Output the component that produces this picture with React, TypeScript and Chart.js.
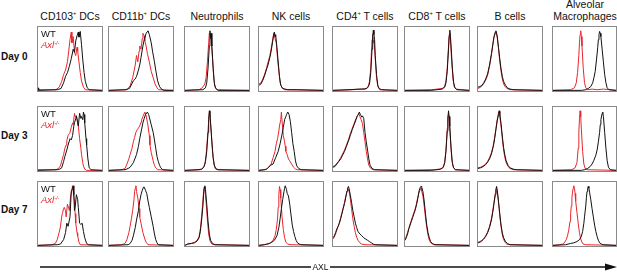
import React, { useEffect, useRef } from "react";
import { Chart, registerables } from "chart.js";

Chart.register(...registerables);

type Pt = [number, number];

// ---------- categories ----------
const cellTypes: string[] = [
  "CD103+ DCs",
  "CD11b+ DCs",
  "Neutrophils",
  "NK cells",
  "CD4+ T cells",
  "CD8+ T cells",
  "B cells",
  "Alveolar\nMacrophages",
];
const days: string[] = ["Day 0", "Day 3", "Day 7"];
const seriesNames: string[] = ["WT", "Axl", "-/-"];
const axisLabel = "AXL";

// ---------- Day 0 (x: AXL channel 0-100, y: % of mode) ----------
const d0CD103WT: Pt[] = [[0,4],[1,0],[30,1],[36,3],[40,12],[43,22],[46,28],[49,38],[52,50],[55,65],[57,60],[59,78],[61,86],[63,92],[64,84],[66,93],[68,72],[70,48],[72,28],[74,14],[77,4],[80,1],[100,0]];
const d0CD103AXL: Pt[] = [[0,1],[28,1],[33,5],[37,14],[40,25],[43,32],[46,45],[48,62],[50,80],[52,92],[53,75],[55,85],[57,60],[59,55],[61,68],[62,62],[64,45],[66,28],[68,15],[71,5],[74,1],[100,0]];
const d0CD11bWT: Pt[] = [[0,0],[26,1],[32,3],[38,15],[41,18],[43,22],[46,32],[48,40],[50,52],[53,70],[55,80],[58,90],[61,94],[63,88],[66,75],[68,62],[71,45],[73,32],[76,15],[79,6],[82,2],[86,0],[100,0]];
const d0CD11bAXL: Pt[] = [[0,0],[28,1],[33,7],[37,20],[41,40],[43,55],[45,45],[47,62],[48,70],[50,65],[52,82],[53,90],[55,86],[56,78],[58,70],[60,58],[63,45],[66,30],[69,20],[72,10],[75,4],[78,1],[100,0]];
const d0NeuWT: Pt[] = [[0,0],[28,1],[32,4],[34,12],[36,35],[38,70],[39,94],[40,82],[41,90],[42,70],[44,35],[46,10],[48,3],[52,0],[100,0]];
const d0NeuAXL: Pt[] = [[0,0],[22,1],[27,4],[31,10],[33,20],[35,45],[37,75],[38,90],[40,86],[41,78],[43,50],[45,18],[47,5],[50,1],[100,0]];
const d0NKWT: Pt[] = [[0,8],[3,10],[6,16],[9,24],[12,34],[14,40],[17,52],[19,62],[21,75],[23,88],[24,92],[25,85],[26,88],[28,68],[30,45],[32,22],[34,8],[37,3],[45,1],[60,1],[100,0]];
const d0NKAXL: Pt[] = [[0,10],[3,12],[6,18],[9,26],[12,36],[14,44],[17,55],[19,66],[21,78],[23,90],[24,88],[25,82],[27,75],[29,50],[31,30],[33,12],[36,4],[40,1],[100,0]];
const d0CD4WT: Pt[] = [[0,0],[25,1],[40,2],[50,2],[54,4],[57,10],[59,28],[61,65],[62,85],[63,95],[64,88],[65,80],[66,55],[68,25],[70,8],[72,3],[76,1],[100,0]];
const d0CD4AXL: Pt[] = [[0,0],[30,1],[45,2],[52,3],[55,6],[57,14],[59,35],[60,60],[61,80],[62,88],[63,75],[64,80],[66,50],[68,20],[70,6],[73,1],[100,0]];
const d0CD8WT: Pt[] = [[0,0],[40,0],[50,1],[58,2],[62,5],[64,12],[66,30],[68,65],[69,85],[70,95],[71,85],[72,70],[74,35],[76,12],[78,4],[81,1],[100,0]];
const d0CD8AXL: Pt[] = [[0,0],[42,1],[50,2],[58,3],[62,6],[64,15],[66,35],[68,70],[69,88],[70,90],[71,78],[73,45],[75,18],[77,6],[80,2],[100,0]];
const d0BWT: Pt[] = [[0,5],[3,6],[6,8],[9,12],[12,18],[15,26],[18,40],[21,58],[23,72],[25,85],[27,92],[28,94],[30,86],[32,68],[34,50],[36,34],[38,22],[40,14],[43,8],[46,4],[50,2],[56,1],[100,0]];
const d0BAXL: Pt[] = [[0,3],[4,5],[8,9],[12,16],[15,24],[18,38],[21,56],[23,70],[25,84],[27,90],[28,92],[30,84],[32,66],[34,46],[36,30],[38,18],[40,10],[43,5],[47,2],[52,1],[100,0]];
const d0AMWT: Pt[] = [[0,0],[45,0],[52,1],[56,3],[60,6],[63,12],[65,20],[67,30],[69,48],[71,68],[72,80],[73,88],[74,93],[75,90],[76,85],[78,65],[80,45],[82,25],[84,12],[86,4],[89,1],[100,0]];
const d0AMAXL: Pt[] = [[0,0],[28,1],[34,4],[37,12],[39,28],[41,55],[42,75],[43,88],[44,94],[45,85],[46,70],[48,35],[50,12],[52,4],[55,1],[62,2],[70,1],[80,2],[90,1],[100,0]];

// ---------- Day 3 ----------
const d3CD103WT: Pt[] = [[0,0],[30,1],[34,2],[37,4],[40,14],[42,22],[45,32],[47,40],[50,50],[52,48],[54,55],[56,70],[57,75],[59,82],[60,86],[62,75],[63,70],[65,90],[67,82],[68,85],[70,80],[71,92],[72,88],[73,75],[75,50],[76,40],[78,18],[80,4],[83,1],[100,0]];
const d3CD103AXL: Pt[] = [[0,1],[28,1],[32,3],[35,7],[38,18],[40,25],[42,35],[44,40],[45,47],[47,55],[49,58],[50,60],[52,68],[54,75],[55,72],[57,90],[58,85],[60,86],[62,75],[63,70],[65,50],[67,35],[68,25],[70,12],[71,7],[73,2],[76,0],[100,0]];
const d3CD11bWT: Pt[] = [[0,0],[25,1],[30,3],[33,5],[38,12],[43,25],[46,38],[48,50],[51,65],[53,75],[55,82],[57,88],[60,92],[62,88],[63,84],[66,72],[69,60],[71,48],[73,35],[75,22],[77,14],[79,8],[81,4],[84,1],[100,0]];
const d3CD11bAXL: Pt[] = [[0,0],[20,1],[25,3],[28,10],[31,18],[33,25],[36,35],[38,45],[40,52],[42,60],[44,64],[46,67],[48,70],[50,76],[51,80],[53,85],[55,90],[56,92],[58,86],[60,76],[61,70],[63,55],[64,40],[66,28],[69,15],[71,8],[73,4],[76,1],[100,0]];
const d3NeuWT: Pt[] = [[0,0],[20,1],[26,2],[30,6],[32,14],[34,30],[36,60],[37,80],[38,94],[39,90],[40,75],[42,45],[44,20],[46,8],[48,3],[52,1],[100,0]];
const d3NeuAXL: Pt[] = [[0,0],[24,1],[28,3],[31,10],[33,24],[35,50],[37,78],[38,90],[39,85],[41,60],[43,30],[45,10],[47,3],[50,1],[100,0]];
const d3NKWT: Pt[] = [[0,0],[10,1],[13,3],[18,8],[22,10],[26,20],[30,30],[33,42],[36,57],[38,68],[40,80],[42,85],[43,88],[45,92],[47,88],[49,77],[51,60],[53,42],[55,30],[57,15],[59,7],[62,3],[66,1],[100,0]];
const d3NKAXL: Pt[] = [[0,0],[12,2],[16,6],[19,10],[22,20],[25,30],[27,42],[29,50],[31,62],[32,70],[34,80],[35,92],[36,78],[38,55],[40,45],[41,38],[42,30],[44,25],[46,18],[48,15],[51,10],[54,5],[57,2],[60,1],[100,0]];
const d3CD4WT: Pt[] = [[0,5],[3,6],[6,10],[9,14],[12,18],[15,24],[18,30],[21,38],[24,46],[27,55],[30,64],[33,72],[36,80],[38,86],[40,88],[41,92],[43,88],[45,84],[46,86],[48,82],[50,60],[52,45],[54,32],[56,18],[58,8],[61,3],[65,1],[100,0]];
const d3CD4AXL: Pt[] = [[0,6],[3,8],[6,11],[9,15],[12,20],[15,26],[18,32],[21,40],[24,48],[27,58],[30,66],[33,74],[36,82],[38,86],[40,90],[42,85],[44,80],[46,74],[48,60],[50,45],[52,30],[54,18],[56,8],[59,3],[63,1],[100,0]];
const d3CD8WT: Pt[] = [[0,0],[40,0],[50,1],[56,2],[60,5],[62,12],[64,30],[66,62],[67,82],[68,94],[69,85],[70,70],[72,35],[74,12],[76,4],[79,1],[100,0]];
const d3CD8AXL: Pt[] = [[0,0],[45,1],[54,2],[59,4],[62,12],[64,32],[66,66],[67,85],[68,88],[69,80],[71,48],[73,18],[75,6],[78,1],[100,0]];
const d3BWT: Pt[] = [[0,3],[4,4],[8,6],[12,9],[15,13],[18,18],[21,26],[24,38],[26,50],[28,64],[30,78],[32,88],[33,94],[34,90],[36,74],[38,54],[40,36],[42,24],[44,15],[47,8],[50,4],[55,2],[60,1],[100,0]];
const d3BAXL: Pt[] = [[0,4],[4,5],[8,7],[12,10],[15,14],[18,20],[21,28],[24,40],[26,52],[28,66],[30,80],[32,90],[33,92],[34,86],[36,70],[38,50],[40,32],[42,20],[44,12],[47,6],[50,3],[55,1],[100,0]];
const d3AMWT: Pt[] = [[0,0],[45,0],[50,1],[55,3],[59,6],[62,10],[65,16],[68,24],[70,32],[72,45],[74,60],[75,72],[76,80],[78,90],[79,92],[80,85],[82,60],[84,35],[86,15],[88,5],[91,1],[100,0]];
const d3AMAXL: Pt[] = [[0,0],[30,1],[35,4],[38,12],[40,35],[41,60],[42,82],[43,94],[44,85],[45,65],[47,30],[49,10],[51,3],[54,1],[100,0]];

// ---------- Day 7 ----------
const d7CD103WT: Pt[] = [[0,0],[30,1],[35,2],[40,9],[43,20],[45,35],[47,30],[49,40],[50,45],[52,85],[54,90],[55,94],[56,80],[57,55],[58,60],[60,80],[62,72],[63,60],[65,35],[67,33],[69,35],[71,22],[73,12],[76,3],[79,1],[100,0]];
const d7CD103AXL: Pt[] = [[0,0],[22,1],[27,3],[30,9],[33,20],[35,29],[37,45],[38,50],[40,58],[41,60],[43,55],[44,45],[46,65],[48,58],[49,55],[51,78],[53,88],[54,94],[55,85],[57,70],[58,50],[59,35],[61,20],[62,15],[64,5],[66,1],[100,0]];
const d7CD11bWT: Pt[] = [[0,0],[30,1],[33,3],[36,8],[38,15],[41,28],[43,40],[46,55],[48,70],[50,80],[52,87],[54,92],[55,92],[57,87],[59,82],[61,70],[63,60],[66,45],[69,30],[71,18],[73,9],[75,4],[77,1],[100,0]];
const d7CD11bAXL: Pt[] = [[0,0],[20,1],[25,3],[28,9],[31,20],[33,30],[35,42],[37,55],[39,72],[40,85],[41,90],[42,94],[43,85],[45,75],[47,58],[48,45],[50,35],[53,20],[56,10],[58,5],[61,1],[100,0]];
const d7NeuWT: Pt[] = [[0,0],[4,2],[10,3],[15,4],[19,7],[22,12],[24,22],[26,40],[28,62],[29,80],[30,90],[31,94],[32,88],[34,65],[36,38],[38,18],[40,8],[43,3],[47,1],[100,0]];
const d7NeuAXL: Pt[] = [[0,0],[4,2],[10,3],[15,5],[19,8],[22,14],[24,26],[26,46],[28,70],[29,85],[30,92],[31,88],[33,68],[35,40],[37,18],[39,7],[42,2],[46,1],[100,0]];
const d7NKWT: Pt[] = [[0,0],[8,1],[12,2],[16,3],[20,5],[24,8],[28,15],[31,28],[33,42],[35,58],[37,72],[39,85],[40,90],[41,94],[43,88],[44,82],[46,78],[48,65],[50,48],[52,32],[54,22],[56,14],[58,8],[60,4],[63,2],[67,1],[100,0]];
const d7NKAXL: Pt[] = [[0,0],[8,1],[14,2],[18,4],[22,8],[25,15],[27,25],[29,42],[30,60],[31,80],[32,93],[33,88],[34,75],[36,45],[38,25],[40,12],[42,5],[45,2],[50,1],[100,0]];
const d7CD4WT: Pt[] = [[0,12],[2,15],[4,20],[6,26],[8,30],[10,35],[12,42],[14,50],[16,58],[18,66],[20,76],[22,86],[23,90],[24,93],[25,90],[27,80],[29,68],[31,55],[33,45],[35,35],[37,28],[39,22],[42,18],[45,15],[48,12],[51,10],[54,8],[57,6],[60,4],[63,2],[66,1],[100,0]];
const d7CD4AXL: Pt[] = [[0,10],[2,13],[4,18],[6,24],[8,30],[10,36],[12,44],[14,52],[16,60],[18,68],[20,78],[22,86],[23,90],[25,86],[27,74],[29,58],[31,42],[33,30],[35,20],[37,13],[39,8],[42,4],[45,2],[50,1],[100,0]];
const d7CD8WT: Pt[] = [[0,8],[2,12],[4,18],[6,26],[8,32],[10,38],[12,44],[14,50],[16,56],[18,64],[20,74],[22,86],[24,92],[25,93],[26,92],[28,85],[30,70],[32,50],[34,32],[36,20],[38,12],[40,6],[43,3],[47,1],[100,0]];
const d7CD8AXL: Pt[] = [[0,10],[2,14],[4,20],[6,27],[8,34],[10,40],[12,46],[14,52],[16,58],[18,66],[20,76],[22,84],[24,88],[25,90],[26,86],[28,78],[30,62],[32,44],[34,28],[36,16],[38,8],[41,3],[45,1],[100,0]];
const d7BWT: Pt[] = [[0,4],[3,5],[6,7],[9,10],[12,14],[15,20],[18,28],[21,40],[23,52],[25,66],[27,80],[28,88],[29,93],[30,88],[32,70],[34,50],[36,32],[38,20],[40,12],[43,6],[46,3],[50,1],[100,0]];
const d7BAXL: Pt[] = [[0,5],[3,6],[6,8],[9,11],[12,15],[15,21],[18,30],[21,42],[23,54],[25,68],[27,82],[28,88],[29,90],[31,78],[33,58],[35,38],[37,22],[39,12],[42,5],[45,2],[50,1],[100,0]];
const d7AMWT: Pt[] = [[0,0],[20,1],[28,3],[33,4],[38,6],[42,9],[45,14],[47,22],[49,35],[50,45],[52,62],[53,75],[54,85],[55,90],[56,93],[57,90],[58,84],[60,72],[62,58],[64,45],[66,32],[68,22],[70,14],[72,8],[74,4],[77,2],[80,1],[100,0]];
const d7AMAXL: Pt[] = [[0,0],[10,1],[15,2],[18,4],[21,9],[23,15],[25,24],[27,38],[28,50],[29,62],[30,75],[31,84],[32,90],[33,94],[34,90],[35,82],[36,70],[38,52],[40,35],[42,20],[44,10],[46,5],[48,2],[52,1],[100,0]];

const wtByDay: Pt[][][] = [
  [d0CD103WT, d0CD11bWT, d0NeuWT, d0NKWT, d0CD4WT, d0CD8WT, d0BWT, d0AMWT],
  [d3CD103WT, d3CD11bWT, d3NeuWT, d3NKWT, d3CD4WT, d3CD8WT, d3BWT, d3AMWT],
  [d7CD103WT, d7CD11bWT, d7NeuWT, d7NKWT, d7CD4WT, d7CD8WT, d7BWT, d7AMWT],
];
const axlByDay: Pt[][][] = [
  [d0CD103AXL, d0CD11bAXL, d0NeuAXL, d0NKAXL, d0CD4AXL, d0CD8AXL, d0BAXL, d0AMAXL],
  [d3CD103AXL, d3CD11bAXL, d3NeuAXL, d3NKAXL, d3CD4AXL, d3CD8AXL, d3BAXL, d3AMAXL],
  [d7CD103AXL, d7CD11bAXL, d7NeuAXL, d7NKAXL, d7CD4AXL, d7CD8AXL, d7BAXL, d7AMAXL],
];

// ---------- layout & style ----------
const FONT = "'Liberation Sans', Arial, Helvetica, sans-serif";
const RED = "#e8262c";
const BLACK = "#111111";
const colLefts = [37, 108, 184, 258, 332, 404, 477, 552];
const rowTops = [26, 106, 181];
const dayLabelY = [57, 136, 210];
const PANEL_W = 66;
const PANEL_H = 66;

function Panel(props: { wt: Pt[]; axl: Pt[]; left: number; top: number; w: number; h: number }) {
  const { wt, axl, left, top, w, h } = props;
  const ref = useRef<HTMLCanvasElement | null>(null);
  useEffect(() => {
    if (!ref.current) return;
    const chart = new Chart(ref.current, {
      type: "line",
      data: {
        datasets: [
          {
            label: seriesNames[0],
            data: wt.map(([x, y]) => ({ x, y })),
            borderColor: BLACK,
            borderWidth: 1,
            pointRadius: 0,
            tension: 0,
            fill: false,
            order: 0,
          },
          {
            label: seriesNames[1] + seriesNames[2],
            data: axl.map(([x, y]) => ({ x, y })),
            borderColor: RED,
            borderWidth: 1,
            pointRadius: 0,
            tension: 0,
            fill: false,
            order: 1,
          },
        ],
      },
      options: {
        animation: false,
        responsive: false,
        events: [],
        layout: { padding: 0 },
        plugins: { legend: { display: false }, tooltip: { enabled: false }, title: { display: false } },
        scales: {
          x: { type: "linear", min: 0, max: 100, display: false },
          y: { type: "linear", min: -1, max: 100, display: false },
        },
      },
    });
    return () => chart.destroy();
  }, [wt, axl]);
  return (
    <div
      style={{
        position: "absolute",
        left,
        top,
        width: w,
        height: h,
        border: "1px solid #8a8a8a",
        boxSizing: "border-box",
        background: "#fff",
      }}
    >
      <canvas ref={ref} width={w - 2} height={h - 2} style={{ display: "block", width: w - 2, height: h - 2 }} />
    </div>
  );
}

function Title({ text }: { text: string }) {
  const lines = text.split("\n");
  return (
    <>
      {lines.map((ln, i) => {
        const parts = ln.split("+");
        return (
          <div key={i}>
            {parts.length > 1 ? (
              <>
                {parts[0]}
                <span style={{ fontSize: "0.55em", verticalAlign: "top", lineHeight: "8px", position: "relative", top: -1 }}>+</span>
                {parts[1]}
              </>
            ) : (
              ln
            )}
          </div>
        );
      })}
    </>
  );
}

export default function App() {
  return (
    <div
      style={{
        position: "absolute",
        left: 0,
        top: 0,
        width: 617,
        height: 272,
        overflow: "hidden",
        background: "#fff",
        fontFamily: FONT,
        color: "#111",
      }}
    >
      {cellTypes.map((t, c) => {
        const nLines = t.split("\n").length;
        return (
          <div
            key={"t" + c}
            style={{
              position: "absolute",
              left: colLefts[c] + PANEL_W / 2 - 50,
              width: 100,
              top: 10 - 12 * (nLines - 1),
              textAlign: "center",
              fontSize: 10.5,
              lineHeight: "12px",
              whiteSpace: "nowrap",
            }}
          >
            <Title text={t} />
          </div>
        );
      })}
      {days.map((d, r) => (
        <div
          key={"d" + r}
          style={{
            position: "absolute",
            left: 1,
            top: dayLabelY[r] - 6,
            fontSize: 10,
            lineHeight: "12px",
            fontWeight: "bold",
            whiteSpace: "nowrap",
          }}
        >
          {d}
        </div>
      ))}
      {days.map((_, r) =>
        cellTypes.map((__, c) => (
          <Panel
            key={r + "-" + c}
            wt={wtByDay[r][c]}
            axl={axlByDay[r][c]}
            left={colLefts[c]}
            top={rowTops[r]}
            w={c === cellTypes.length - 1 ? PANEL_W - 1 : PANEL_W}
            h={PANEL_H}
          />
        ))
      )}
      {days.map((_, r) => (
        <React.Fragment key={"lg" + r}>
          <div
            style={{
              position: "absolute",
              left: colLefts[0] + 4,
              top: rowTops[r] + 3,
              fontSize: 9.5,
              lineHeight: "10px",
              color: BLACK,
            }}
          >
            {seriesNames[0]}
          </div>
          <div
            style={{
              position: "absolute",
              left: colLefts[0] + 4,
              top: rowTops[r] + 14,
              fontSize: 9.5,
              lineHeight: "10px",
              color: RED,
              fontStyle: "italic",
              whiteSpace: "nowrap",
            }}
          >
            {seriesNames[1]}
            <span style={{ fontSize: 5.5, verticalAlign: "top", lineHeight: "6px" }}>{seriesNames[2]}</span>
          </div>
        </React.Fragment>
      ))}
      <svg width={617} height={272} style={{ position: "absolute", left: 0, top: 0, pointerEvents: "none" }}>
        <line x1={40} y1={267} x2={311} y2={267} stroke="#111" strokeWidth={1.5} />
        <line x1={330} y1={267} x2={608} y2={267} stroke="#111" strokeWidth={1.5} />
        <polygon points="605,263.5 617,267 605,270.5" fill="#111" />
      </svg>
      <div
        style={{
          position: "absolute",
          left: 300,
          width: 41,
          top: 262,
          textAlign: "center",
          fontSize: 8.5,
          lineHeight: "10px",
        }}
      >
        {axisLabel}
      </div>
    </div>
  );
}
